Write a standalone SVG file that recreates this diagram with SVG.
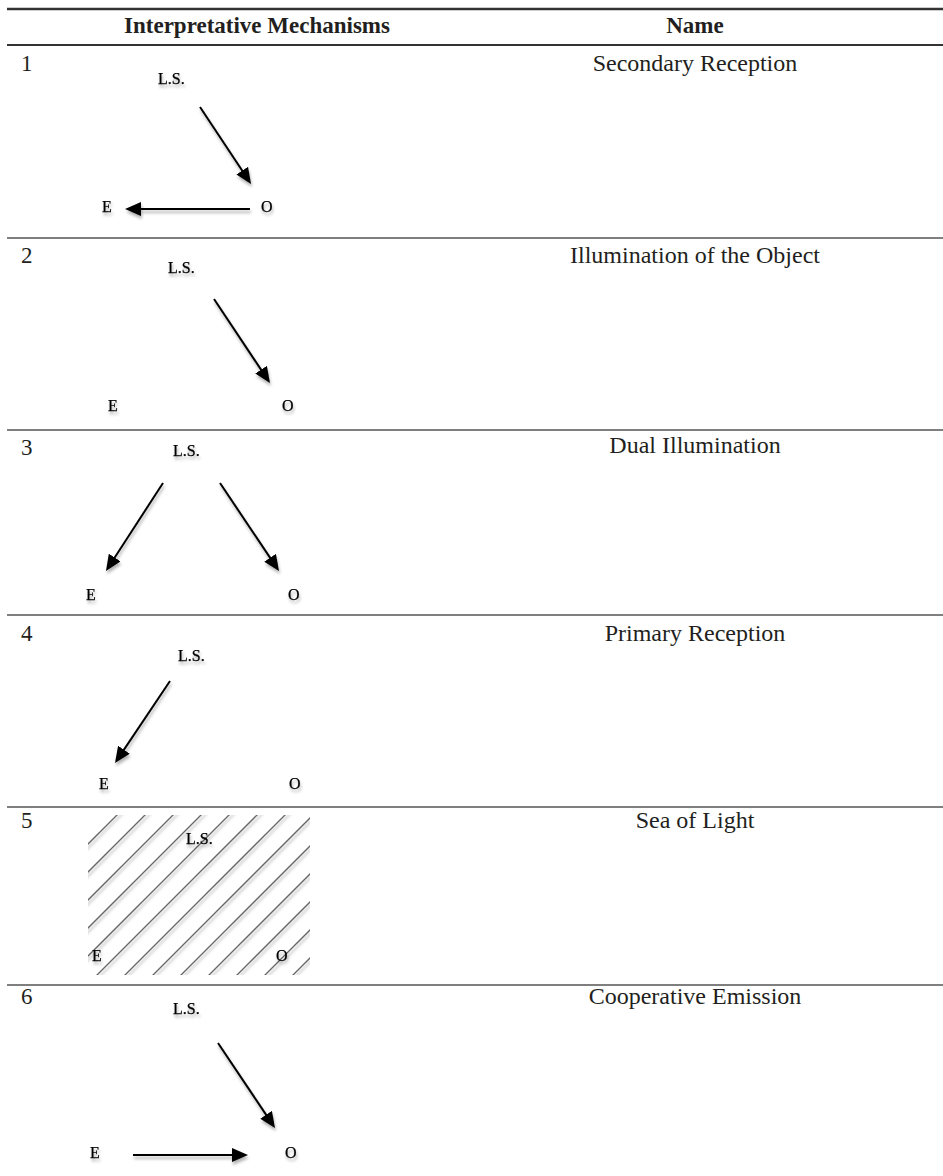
<svg xmlns="http://www.w3.org/2000/svg" width="943" height="1176" viewBox="0 0 943 1176">
<style>
.hd{font-family:"Liberation Serif",serif;font-size:23px;font-weight:bold;fill:#231f20;text-anchor:middle}
.nm{font-family:"Liberation Serif",serif;font-size:24px;fill:#231f20;text-anchor:middle}
.num{font-family:"Liberation Serif",serif;font-size:23px;fill:#231f20}
.lb{font-family:"Liberation Serif",serif;font-size:16px;fill:#000;stroke:#000;stroke-width:0.25;filter:url(#sh)}
.rule{stroke:#555;stroke-width:1.6}
.arr{stroke:#000;stroke-width:2;fill:none;marker-end:url(#ah)}
.hatch{stroke:#666;stroke-width:1.3}
</style>
<defs>
<filter id="sh" filterUnits="userSpaceOnUse" x="0" y="0" width="943" height="1176">
<feDropShadow dx="1" dy="3" stdDeviation="1.5" flood-color="#000" flood-opacity="0.3"/>
</filter>
<marker id="ah" markerUnits="userSpaceOnUse" markerWidth="18" markerHeight="16" refX="2" refY="7" orient="auto">
<path d="M0,0 L16,7 L0,14 z" fill="#000"/>
</marker>
<clipPath id="hc"><rect x="88" y="815" width="222" height="160"/></clipPath>
</defs>
<rect width="943" height="1176" fill="#fff"/>
<g id="table">
<line x1="7" y1="9" x2="943" y2="9" stroke="#333" stroke-width="2.5"/>
<line x1="7" y1="45" x2="943" y2="45" stroke="#333" stroke-width="2.2"/>
<line class="rule" x1="7" y1="238" x2="943" y2="238"/>
<line class="rule" x1="7" y1="430" x2="943" y2="430"/>
<line class="rule" x1="7" y1="615" x2="943" y2="615"/>
<line class="rule" x1="7" y1="807" x2="943" y2="807"/>
<line class="rule" x1="7" y1="985" x2="943" y2="985"/>
<text class="hd" x="257" y="33">Interpretative Mechanisms</text>
<text class="hd" x="695" y="33">Name</text>
</g>
<g id="row1">
<text class="num" x="21" y="71">1</text>
<text class="nm" x="695" y="71">Secondary Reception</text>
<text class="lb" x="158" y="84">L.S.</text>
<text class="lb" x="102" y="212">E</text>
<text class="lb" x="261" y="212">O</text>
</g>
<g id="row2">
<text class="num" x="21" y="263">2</text>
<text class="nm" x="695" y="263">Illumination of the Object</text>
<text class="lb" x="168" y="273">L.S.</text>
<text class="lb" x="108" y="411">E</text>
<text class="lb" x="282" y="411">O</text>
</g>
<g id="row3">
<text class="num" x="21" y="455">3</text>
<text class="nm" x="695" y="453">Dual Illumination</text>
<text class="lb" x="173" y="456">L.S.</text>
<text class="lb" x="86" y="600">E</text>
<text class="lb" x="288" y="600">O</text>
</g>
<g id="row4">
<text class="num" x="21" y="641">4</text>
<text class="nm" x="695" y="641">Primary Reception</text>
<text class="lb" x="178" y="661">L.S.</text>
<text class="lb" x="99" y="789">E</text>
<text class="lb" x="289" y="789">O</text>
</g>
<g id="row5">
<text class="num" x="21" y="828">5</text>
<text class="nm" x="695" y="828">Sea of Light</text>
<g clip-path="url(#hc)">
<g filter="url(#sh)">
<line class="hatch" x1="-68" y1="1000" x2="142" y2="790"/>
<line class="hatch" x1="-40" y1="1000" x2="170" y2="790"/>
<line class="hatch" x1="-12" y1="1000" x2="198" y2="790"/>
<line class="hatch" x1="16" y1="1000" x2="226" y2="790"/>
<line class="hatch" x1="44" y1="1000" x2="254" y2="790"/>
<line class="hatch" x1="72" y1="1000" x2="282" y2="790"/>
<line class="hatch" x1="100" y1="1000" x2="310" y2="790"/>
<line class="hatch" x1="128" y1="1000" x2="338" y2="790"/>
<line class="hatch" x1="156" y1="1000" x2="366" y2="790"/>
<line class="hatch" x1="184" y1="1000" x2="394" y2="790"/>
<line class="hatch" x1="212" y1="1000" x2="422" y2="790"/>
<line class="hatch" x1="240" y1="1000" x2="450" y2="790"/>
<line class="hatch" x1="268" y1="1000" x2="478" y2="790"/>
<line class="hatch" x1="296" y1="1000" x2="506" y2="790"/>
</g>
</g>
<text class="lb" x="186" y="844">L.S.</text>
<text class="lb" x="92" y="961">E</text>
<text class="lb" x="276" y="961">O</text>
</g>
<g id="row6">
<text class="num" x="21" y="1004">6</text>
<text class="nm" x="695" y="1004">Cooperative Emission</text>
<text class="lb" x="173" y="1014">L.S.</text>
<text class="lb" x="90" y="1158">E</text>
<text class="lb" x="285" y="1158">O</text>
</g>
<g id="connectors" filter="url(#sh)">
<line class="arr" x1="200" y1="107" x2="243.3" y2="172.3"/>
<line class="arr" x1="250" y1="209" x2="139" y2="209"/>
<line class="arr" x1="214" y1="299" x2="262.2" y2="371.4"/>
<line class="arr" x1="163" y1="483" x2="113.6" y2="559.2"/>
<line class="arr" x1="220" y1="483" x2="271.2" y2="559.4"/>
<line class="arr" x1="170" y1="681" x2="122.8" y2="751.4"/>
<line class="arr" x1="218" y1="1043" x2="267.2" y2="1116.4"/>
<line class="arr" x1="133" y1="1155" x2="234" y2="1155"/>
</g>
</svg>
